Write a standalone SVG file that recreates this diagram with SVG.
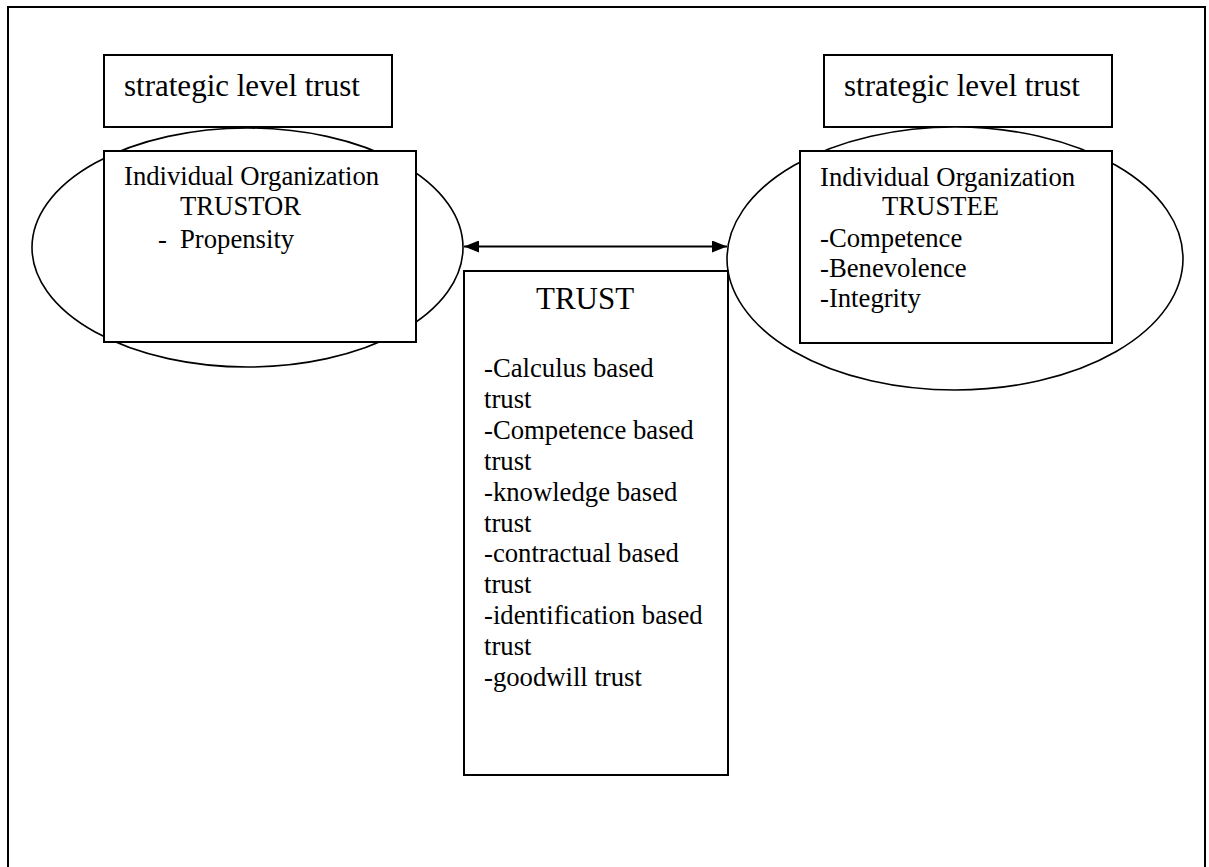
<svg xmlns="http://www.w3.org/2000/svg" width="1209" height="867" viewBox="0 0 1209 867">
<style>
  .box { fill: #fff; stroke: #000; stroke-width: 2; }
  .ell { fill: #fff; stroke: #000; stroke-width: 1.6; }
  .t { font-family: "Liberation Serif", "Times New Roman", serif; fill: #000; }
  .big { font-size: 31px; }
  .body { font-size: 26.7px; }
  .conn { stroke: #000; stroke-width: 2; fill: none; }
</style>
<defs>
  <marker id="ah" viewBox="0 0 15 12" refX="15" refY="6" markerWidth="15" markerHeight="12" markerUnits="userSpaceOnUse" orient="auto-start-reverse">
    <path d="M0,0 L15,6 L0,12 z" fill="#000"/>
  </marker>
</defs>
<rect width="1209" height="867" fill="#fff"/>
<path d="M8,880 V7 H1205 V880" class="conn"/>

<g id="left-strategic">
  <rect class="box" x="104" y="55" width="288" height="72"/>
  <text class="t big" x="124" y="96">strategic level trust</text>
</g>
<g id="left-ellipse">
  <ellipse class="ell" cx="247.5" cy="247.5" rx="215.5" ry="119.5"/>
</g>
<g id="trustor">
  <rect class="box" x="104" y="151" width="312" height="191"/>
  <text class="t body" x="124" y="185">Individual Organization</text>
  <text class="t body" x="180" y="215">TRUSTOR</text>
  <text class="t body" x="158" y="248">-</text>
  <text class="t body" x="180" y="248">Propensity</text>
</g>

<g id="right-strategic">
  <rect class="box" x="824" y="55" width="288" height="72"/>
  <text class="t big" x="844" y="96">strategic level trust</text>
</g>
<g id="right-ellipse">
  <ellipse class="ell" cx="955" cy="258.5" rx="228" ry="131.5"/>
</g>
<g id="trustee">
  <rect class="box" x="800" y="151" width="312" height="192"/>
  <text class="t body" x="820" y="186">Individual Organization</text>
  <text class="t body" x="882" y="215">TRUSTEE</text>
  <text class="t body" x="820" y="247">-Competence</text>
  <text class="t body" x="820" y="277">-Benevolence</text>
  <text class="t body" x="820" y="307">-Integrity</text>
</g>

<g id="trust">
  <rect class="box" x="464" y="271" width="264" height="504"/>
  <text class="t big" x="536" y="309">TRUST</text>
  <text class="t body" x="484" y="377">-Calculus based</text>
  <text class="t body" x="484" y="408">trust</text>
  <text class="t body" x="484" y="439">-Competence based</text>
  <text class="t body" x="484" y="470">trust</text>
  <text class="t body" x="484" y="501">-knowledge based</text>
  <text class="t body" x="484" y="532">trust</text>
  <text class="t body" x="484" y="562">-contractual based</text>
  <text class="t body" x="484" y="593">trust</text>
  <text class="t body" x="484" y="624">-identification based</text>
  <text class="t body" x="484" y="655">trust</text>
  <text class="t body" x="484" y="686">-goodwill trust</text>
</g>

<g id="connectors">
  <line class="conn" x1="464" y1="246.5" x2="727" y2="246.5" marker-start="url(#ah)" marker-end="url(#ah)"/>
</g>
</svg>
